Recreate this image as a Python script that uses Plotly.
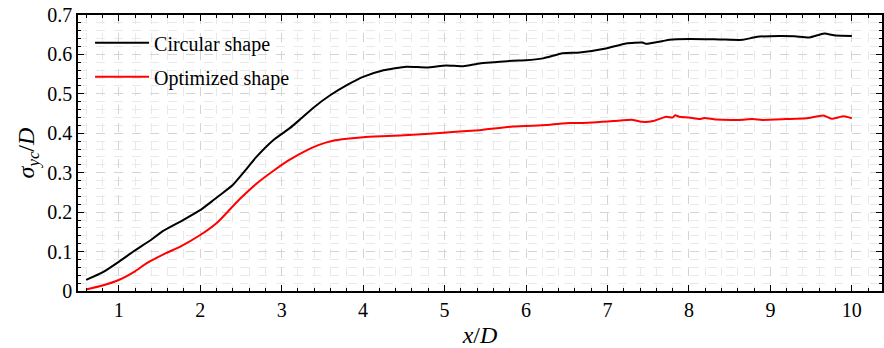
import plotly.graph_objects as go

# Streamwise position x/D
circ_x = [0.6, 0.8, 1.0, 1.2, 1.4, 1.54, 1.79, 2.0, 2.16, 2.24, 2.4, 2.57, 2.69, 2.9,
          3.1, 3.22, 3.39, 3.6, 3.8, 4.0, 4.25, 4.53, 4.78, 5.02, 5.23, 5.43, 5.6,
          5.84, 6.0, 6.21, 6.45, 6.66, 6.98, 7.23, 7.43, 7.47, 7.68, 7.76, 8.0, 8.37,
          8.66, 8.82, 9.11, 9.3, 9.48, 9.66, 9.8, 10.0]
circ_y = [0.028, 0.047, 0.074, 0.103, 0.13, 0.152, 0.18, 0.205, 0.23, 0.243, 0.269,
          0.31, 0.34, 0.383, 0.413, 0.434, 0.465, 0.497, 0.522, 0.543, 0.56, 0.569,
          0.567, 0.572, 0.570, 0.577, 0.580, 0.584, 0.585, 0.59, 0.603, 0.605, 0.615,
          0.628, 0.630, 0.627, 0.634, 0.637, 0.639, 0.638, 0.637, 0.644, 0.647, 0.646,
          0.643, 0.653, 0.648, 0.647]

opt_x = [0.6, 0.8, 1.0, 1.2, 1.34, 1.58, 1.75, 2.0, 2.2, 2.26, 2.48, 2.69, 2.9, 3.1,
         3.3, 3.45, 3.63, 3.8, 4.0, 4.3, 4.61, 5.02, 5.43, 5.84, 6.25, 6.54, 6.66,
         7.07, 7.31, 7.43, 7.56, 7.72, 7.8, 7.83, 7.88, 8.0, 8.13, 8.19, 8.33, 8.62,
         8.78, 8.9, 9.19, 9.44, 9.65, 9.75, 9.9, 10.0]
opt_y = [0.004, 0.014, 0.028, 0.05, 0.07, 0.096, 0.112, 0.142, 0.172, 0.184, 0.232,
         0.272, 0.305, 0.333, 0.356, 0.37, 0.381, 0.386, 0.39, 0.393, 0.396, 0.402,
         0.408, 0.417, 0.421, 0.426, 0.426, 0.431, 0.434, 0.429, 0.431, 0.442, 0.44,
         0.446, 0.442, 0.44, 0.436, 0.439, 0.435, 0.434, 0.436, 0.434, 0.436, 0.438,
         0.445, 0.437, 0.443, 0.438]

x_ticks = list(range(1, 11))
y_ticks = [0, 0.1, 0.2, 0.3, 0.4, 0.5, 0.6, 0.7]
y_tick_text = ["0", "0.1", "0.2", "0.3", "0.4", "0.5", "0.6", "0.7"]

FONT = "Liberation Serif"

fig = go.Figure()
fig.add_trace(go.Scatter(x=circ_x, y=circ_y, mode="lines", name="Circular shape",
                         legendgroup="a",
                         line=dict(color="black", width=2, shape="spline", smoothing=0.5)))
fig.add_trace(go.Scatter(x=opt_x, y=opt_y, mode="lines", name="Optimized shape",
                         legendgroup="b",
                         line=dict(color="#ff0000", width=2, shape="spline", smoothing=0.5)))

axis_common = dict(
    showline=True, linecolor="black", linewidth=1.5, mirror="allticks",
    ticks="inside", ticklen=6, tickwidth=1.2, tickcolor="black",
    showgrid=True, gridcolor="#d4d4d4", griddash="dash", gridwidth=1,
    zeroline=False,
    tickfont=dict(family=FONT, size=20, color="black"),
)

fig.update_xaxes(
    range=[0.5, 10.37], tickvals=x_ticks,
    minor=dict(dtick=0.2, ticks="inside", ticklen=3, tickcolor="black",
               showgrid=True, gridcolor="#e9e9e9", griddash="dash"),
    title=dict(text="<i>x</i>/<i>D</i>", font=dict(family=FONT, size=24, color="black"),
               standoff=6),
    **axis_common,
)
fig.update_yaxes(
    range=[0, 0.7], tickvals=y_ticks, ticktext=y_tick_text,
    minor=dict(dtick=0.02, ticks="inside", ticklen=3, tickcolor="black",
               showgrid=True, gridcolor="#e9e9e9", griddash="dash"),
    title=dict(text="<i>σ<sub>yc</sub></i>/<i>D</i>",
               font=dict(family=FONT, size=24, color="black"), standoff=6),
    **axis_common,
)

fig.update_layout(
    width=884, height=348,
    margin=dict(l=78, r=0, t=15, b=57),
    plot_bgcolor="white", paper_bgcolor="white",
    font=dict(family=FONT, color="black"),
    legend=dict(x=0.015, y=0.97, xanchor="left", yanchor="top",
                bgcolor="rgba(255,255,255,0)", borderwidth=0,
                font=dict(family=FONT, size=20, color="black"),
                itemwidth=54,
                traceorder="grouped", tracegroupgap=5),
)

fig.write_html("out.html")
